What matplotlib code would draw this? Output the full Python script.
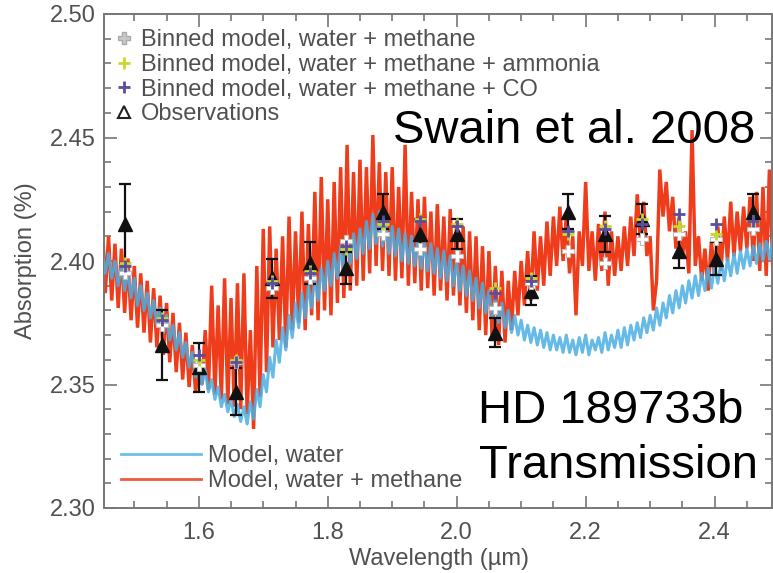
import numpy as np
import matplotlib
matplotlib.use("Agg")
import matplotlib.pyplot as plt
from matplotlib.lines import Line2D
from matplotlib.ticker import MultipleLocator

plt.rcParams['font.family'] = ['Liberation Sans', 'DejaVu Sans']

# ---------------- data ----------------
# model spectra sampled every 0.005 um from 1.450 to 2.490
wave_start, wave_stop, n_wave = 1.450, 2.490, 209

model_water_methane = [
    2.418, 2.387, 2.410, 2.384, 2.407, 2.381, 2.405, 2.379, 2.401, 2.376,
    2.398, 2.373, 2.395, 2.371, 2.392, 2.367, 2.389, 2.365, 2.386, 2.362,
    2.383, 2.359, 2.379, 2.355, 2.375, 2.352, 2.371, 2.349, 2.366, 2.347,
    2.358, 2.350, 2.372, 2.348, 2.390, 2.346, 2.382, 2.344, 2.393, 2.342,
    2.385, 2.341, 2.391, 2.340, 2.395, 2.338, 2.372, 2.332, 2.398, 2.345,
    2.413, 2.355, 2.414, 2.365, 2.405, 2.368, 2.410, 2.365, 2.418, 2.372,
    2.412, 2.375, 2.420, 2.372, 2.415, 2.378, 2.428, 2.376, 2.434, 2.380,
    2.425, 2.378, 2.432, 2.383, 2.438, 2.385, 2.447, 2.388, 2.436, 2.390,
    2.441, 2.392, 2.438, 2.395, 2.451, 2.398, 2.440, 2.396, 2.436, 2.394,
    2.438, 2.392, 2.430, 2.393, 2.447, 2.390, 2.428, 2.391, 2.425, 2.388,
    2.426, 2.389, 2.420, 2.386, 2.423, 2.388, 2.418, 2.384, 2.421, 2.386,
    2.416, 2.382, 2.414, 2.379, 2.412, 2.376, 2.410, 2.372, 2.406, 2.370,
    2.404, 2.368, 2.398, 2.366, 2.396, 2.367, 2.392, 2.372, 2.396, 2.378,
    2.400, 2.382, 2.404, 2.384, 2.412, 2.388, 2.410, 2.390, 2.416, 2.394,
    2.418, 2.398, 2.422, 2.400, 2.418, 2.395, 2.410, 2.378, 2.412, 2.398,
    2.432, 2.396, 2.412, 2.392, 2.415, 2.396, 2.420, 2.390, 2.412, 2.394,
    2.410, 2.396, 2.414, 2.398, 2.418, 2.402, 2.427, 2.408, 2.424, 2.402,
    2.410, 2.380, 2.392, 2.437, 2.418, 2.432, 2.412, 2.426, 2.405, 2.418,
    2.402, 2.412, 2.395, 2.453, 2.398, 2.410, 2.392, 2.405, 2.388, 2.408,
    2.394, 2.414, 2.396, 2.418, 2.400, 2.424, 2.402, 2.420, 2.404, 2.422,
    2.405, 2.426, 2.400, 2.428, 2.396, 2.430, 2.394, 2.437, 2.398,
]

model_water = [
    2.404, 2.395, 2.403, 2.393, 2.400, 2.390, 2.398, 2.388, 2.396, 2.385,
    2.393, 2.382, 2.390, 2.380, 2.387, 2.377, 2.384, 2.374, 2.381, 2.371,
    2.378, 2.368, 2.374, 2.364, 2.371, 2.361, 2.367, 2.357, 2.363, 2.353,
    2.359, 2.350, 2.356, 2.347, 2.352, 2.344, 2.349, 2.341, 2.346, 2.339,
    2.344, 2.337, 2.342, 2.335, 2.341, 2.334, 2.343, 2.336, 2.348, 2.341,
    2.354, 2.347, 2.361, 2.353, 2.368, 2.359, 2.373, 2.364, 2.378, 2.369,
    2.383, 2.373, 2.387, 2.377, 2.390, 2.381, 2.394, 2.384, 2.397, 2.388,
    2.400, 2.390, 2.403, 2.393, 2.406, 2.396, 2.409, 2.399, 2.411, 2.401,
    2.413, 2.403, 2.416, 2.405, 2.419, 2.407, 2.420, 2.406, 2.416, 2.403,
    2.414, 2.402, 2.413, 2.400, 2.411, 2.399, 2.410, 2.398, 2.409, 2.397,
    2.408, 2.396, 2.407, 2.395, 2.405, 2.393, 2.404, 2.392, 2.402, 2.390,
    2.400, 2.388, 2.398, 2.386, 2.396, 2.384, 2.393, 2.381, 2.391, 2.379,
    2.388, 2.377, 2.385, 2.375, 2.383, 2.373, 2.380, 2.371, 2.378, 2.370,
    2.376, 2.368, 2.374, 2.367, 2.373, 2.366, 2.372, 2.365, 2.371, 2.364,
    2.370, 2.364, 2.369, 2.363, 2.370, 2.363, 2.368, 2.362, 2.369, 2.363,
    2.370, 2.362, 2.368, 2.364, 2.369, 2.363, 2.371, 2.364, 2.370, 2.365,
    2.372, 2.365, 2.373, 2.366, 2.374, 2.368, 2.375, 2.369, 2.377, 2.371,
    2.378, 2.372, 2.381, 2.374, 2.383, 2.377, 2.386, 2.379, 2.388, 2.381,
    2.390, 2.383, 2.392, 2.385, 2.394, 2.386, 2.395, 2.388, 2.397, 2.389,
    2.398, 2.391, 2.400, 2.392, 2.401, 2.394, 2.403, 2.395, 2.404, 2.397,
    2.405, 2.398, 2.406, 2.399, 2.407, 2.400, 2.408, 2.401, 2.409,
]

obs_wave = [1.485, 1.543, 1.600, 1.658, 1.714, 1.772, 1.829, 1.885, 1.943,
            2.000, 2.059, 2.116, 2.172, 2.230, 2.287, 2.344, 2.402, 2.459]
obs_abs = [2.415, 2.366, 2.357, 2.347, 2.393, 2.399, 2.397, 2.420, 2.411,
           2.411, 2.371, 2.388, 2.420, 2.411, 2.417, 2.404, 2.401, 2.420]
obs_err = [0.016, 0.014, 0.010, 0.0095, 0.008, 0.0085, 0.0065, 0.007, 0.006,
           0.006, 0.006, 0.006, 0.007, 0.0072, 0.006, 0.007, 0.0067, 0.0073]

binned_wm = [2.395, 2.374, 2.358, 2.359, 2.389, 2.393, 2.408, 2.411, 2.405,
             2.402, 2.381, 2.391, 2.404, 2.399, 2.409, 2.411, 2.409, 2.413]
binned_wm_nh3 = [2.399, 2.377, 2.360, 2.360, 2.392, 2.396, 2.405, 2.415, 2.417,
                 2.415, 2.389, 2.393, 2.411, 2.414, 2.417, 2.414, 2.411, 2.416]
binned_wm_co = [2.398, 2.376, 2.362, 2.359, 2.391, 2.395, 2.406, 2.416, 2.416,
                2.414, 2.387, 2.392, 2.412, 2.413, 2.415, 2.419, 2.415, 2.416]

x_ticks = [1.6, 1.8, 2.0, 2.2, 2.4]
y_ticks = [2.30, 2.35, 2.40, 2.45, 2.50]

# ---------------- figure ----------------
W, H = 773, 573
fig = plt.figure(figsize=(W / 100, H / 100), dpi=100)
L, R, T, B = 104, 772, 14, 508
ax = fig.add_axes([L / W, 1 - B / H, (R - L) / W, (B - T) / H])

wave = np.linspace(wave_start, wave_stop, n_wave)

RED = '#ef3d1c'
BLUE = '#4aaee3'
TXT = '#505050'

ax.plot(wave, model_water_methane, color=RED, lw=2.5, zorder=2,
        solid_joinstyle='miter')
ax.plot(wave, model_water, color=BLUE, lw=2.2, alpha=0.85, zorder=3)

ax.errorbar(obs_wave, obs_abs, yerr=obs_err, fmt='none', ecolor='#111111',
            elinewidth=1.6, capsize=4, capthick=1.6, zorder=4)
ax.plot(obs_wave, obs_abs, ls='none', marker='^', ms=10, mfc='#111111',
        mec='#111111', zorder=5)
ax.plot(obs_wave, binned_wm, ls='none', marker='P', ms=8, mfc='white',
        mec='#bbbbbb', mew=0.8, zorder=6)
ax.plot(obs_wave, binned_wm_nh3, ls='none', marker='+', ms=8, mew=2,
        color='#c9d62c', zorder=6)
ax.plot(obs_wave, binned_wm_co, ls='none', marker='+', ms=8, mew=2,
        color='#5a4e9e', zorder=6)

ax.set_xlim(1.453, 2.489)
ax.set_ylim(2.30, 2.50)
ax.set_xticks(x_ticks)
ax.set_yticks(y_ticks)
ax.set_xticklabels([f'{v:.1f}' for v in x_ticks])
ax.set_yticklabels([f'{v:.2f}' for v in y_ticks])
ax.xaxis.set_minor_locator(MultipleLocator(0.05))
ax.yaxis.set_minor_locator(MultipleLocator(0.01))
ax.tick_params(which='both', direction='in', top=True, right=True,
               color='#777777', width=1.2)
ax.tick_params(which='major', length=9, labelsize=17, labelcolor=TXT)
ax.tick_params(which='minor', length=5)
ax.tick_params(axis='x', which='major', pad=10)
ax.tick_params(axis='y', which='major', pad=6)
for s in ax.spines.values():
    s.set_color('#777777')
    s.set_linewidth(1.4)

ax.set_xlabel('Wavelength (µm)', fontsize=17, color=TXT)
ax.set_ylabel('Absorption (%)', fontsize=17, color=TXT)
ax.xaxis.set_label_coords((439 - L) / (R - L), -(548 - B) / (B - T))
ax.yaxis.set_label_coords(-(L - 37) / (R - L), 0.5)

# upper legend (markers)
h1 = [
    Line2D([], [], ls='none', marker='P', ms=8, mfc='#c8c8c8', mec='#aaaaaa'),
    Line2D([], [], ls='none', marker='+', ms=9, mew=2, color='#c9d62c'),
    Line2D([], [], ls='none', marker='+', ms=9, mew=2, color='#5a4e9e'),
    Line2D([], [], ls='none', marker='^', ms=8, mfc='none', mec='#222222', mew=1.5),
]
lab1 = ['Binned model, water + methane',
        'Binned model, water + methane + ammonia',
        'Binned model, water + methane + CO',
        'Observations']
leg1 = ax.legend(h1, lab1, loc='upper left', frameon=False, fontsize=17,
                 bbox_to_anchor=((115 - L) / (R - L), (B - 29) / (B - T)),
                 borderaxespad=0, borderpad=0, handlelength=0.8,
                 handletextpad=0.3, labelspacing=0.12, labelcolor=TXT)
ax.add_artist(leg1)

h2 = [Line2D([], [], color='#6dbfe9', lw=2), Line2D([], [], color='#ec5a40', lw=2)]
lab2 = ['Model, water', 'Model, water + methane']
ax.legend(h2, lab2, loc='lower left', frameon=False, fontsize=17,
          bbox_to_anchor=((121 - L) / (R - L), (B - 492) / (B - T)),
          borderaxespad=0, borderpad=0, handlelength=3.4,
          handletextpad=0.3, labelspacing=0.12, labelcolor=TXT)

ax.text((393 - L) / (R - L), (B - 143) / (B - T), 'Swain et al. 2008',
        transform=ax.transAxes, fontsize=34, color='black', va='baseline',
        ha='left', zorder=10)
ax.text((478 - L) / (R - L), (B - 423) / (B - T), 'HD 189733b',
        transform=ax.transAxes, fontsize=34, color='black', va='baseline',
        ha='left', zorder=10)
ax.text((479 - L) / (R - L), (B - 478) / (B - T), 'Transmission',
        transform=ax.transAxes, fontsize=34, color='black', va='baseline',
        ha='left', zorder=10)

fig.savefig('out.png', dpi=100)
